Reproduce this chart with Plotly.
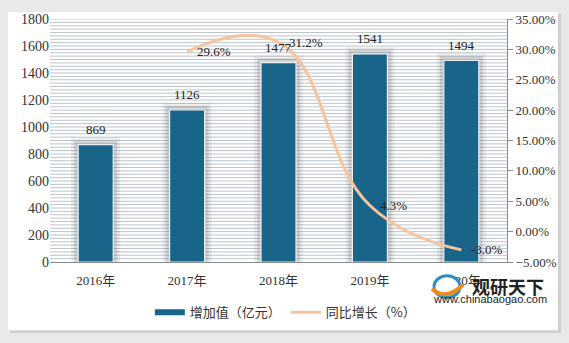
import plotly.graph_objects as go

years = ["2016年", "2017年", "2018年", "2019年", "2020年"]
value_added = [869, 1126, 1477, 1541, 1494]
growth_years = ["2017年", "2018年", "2019年", "2020年"]
growth_pct = [29.6, 31.2, 4.3, -3.0]
growth_labels = ["29.6%", "31.2%", "4.3%", "-3.0%"]

BAR = "#19658a"
LINE = "#f8c49c"
SERIF = "Liberation Serif, Noto Sans CJK SC, serif"
FONT_COL = "#333333"

# plot area in pixels: x 50..507, y 16..262
L, R, T, B = 50, 62, 16, 81
W, H = 569 - L - R, 343 - T - B
def px(x): return (x - L) / W
def py(y): return (343 - B - y) / H

fig = go.Figure()

# soft shadow around bars
for w, a in [(14, 0.10), (8, 0.18)]:
    fig.add_trace(go.Bar(x=years, y=value_added, width=0.383,
                         marker=dict(color=f"rgba(90,90,90,{a})",
                                     line=dict(color=f"rgba(90,90,90,{a})", width=w)),
                         showlegend=False, hoverinfo="skip"))

fig.add_trace(go.Bar(x=years, y=value_added, width=0.383, name="增加值（亿元）",
                     marker=dict(color=BAR, line=dict(color="#e8eef2", width=1.2)),
                     showlegend=False))

fig.add_trace(go.Scatter(x=growth_years, y=growth_pct, yaxis="y2", mode="lines",
                         line=dict(color=LINE, width=3, shape="spline", smoothing=1.25),
                         name="同比增长（%）", showlegend=False, cliponaxis=False))

# legend entries
fig.add_trace(go.Scatter(x=[None], y=[None], mode="lines", name="增加值（亿元）",
                         line=dict(color=BAR, width=6)))
fig.add_trace(go.Scatter(x=[None], y=[None], mode="lines", name="同比增长（%）",
                         line=dict(color=LINE, width=3)))

fig.update_layout(
    width=569, height=343,
    margin=dict(l=L, r=R, t=T, b=B),
    paper_bgcolor="#e9e9e9",
    plot_bgcolor="#e9f0f6",
    barmode="overlay",
    font=dict(family=SERIF, size=13, color=FONT_COL),
    xaxis=dict(type="category", categoryorder="array", categoryarray=years,
               showgrid=False, showline=True, linecolor="#8c8c8c", linewidth=1,
               ticks="", tickfont=dict(family=SERIF, size=13, color=FONT_COL),
               ticklabelstandoff=6),
    yaxis=dict(range=[0, 1800], tickvals=list(range(0, 1801, 200)),
               showgrid=False, zeroline=False, showline=False,
               tickfont=dict(family=SERIF, size=14, color=FONT_COL)),
    yaxis2=dict(range=[-5, 35], dtick=5, tickformat=".2f", ticksuffix="%",
                overlaying="y", side="right", showgrid=False, zeroline=False,
                showline=True, linecolor="#8c8c8c", linewidth=1,
                ticks="outside", ticklen=5, tickcolor="#8c8c8c",
                tickfont=dict(family=SERIF, size=13, color=FONT_COL)),
    legend=dict(orientation="h", x=0.515, xanchor="center", y=py(313), yanchor="middle",
                font=dict(family="Noto Sans CJK SC, sans-serif", size=13, color="#333"),
                bgcolor="rgba(0,0,0,0)", itemwidth=30, tracegroupgap=0),
    showlegend=True,
)

# bar value labels
for x, v in zip(years, value_added):
    fig.add_annotation(x=x, y=v, text=str(v), showarrow=False, yshift=15,
                       xanchor="center", yanchor="middle",
                       font=dict(family=SERIF, size=13, color="#222"))
# growth labels
for x, v, t in zip(growth_years, growth_pct, growth_labels):
    fig.add_annotation(x=x, y=v, yref="y2", text=t, showarrow=False, xshift=8,
                       xanchor="left", yanchor="middle",
                       font=dict(family=SERIF, size=13, color="#222"))

shapes = []
# white panel with shadow
shapes.append(dict(type="rect", xref="paper", yref="paper", layer="below",
                   x0=px(10), x1=px(561), y0=py(334), y1=py(11),
                   fillcolor="#cfcfcf", line=dict(width=0)))
shapes.append(dict(type="rect", xref="paper", yref="paper", layer="below",
                   x0=px(8), x1=px(558), y0=py(331), y1=py(9),
                   fillcolor="white", line=dict(width=0)))
# striped grid lines (every 25 units)
for v in range(25, 1801, 25):
    shapes.append(dict(type="line", xref="paper", yref="y", layer="below",
                       x0=0, x1=1, y0=v, y1=v, line=dict(color="#bcc4cd", width=1)))
# logo
shapes.append(dict(type="circle", xref="paper", yref="paper",
                   x0=px(434), x1=px(460), y0=py(298), y1=py(276),
                   fillcolor="white", line=dict(color="#2a8fc4", width=3)))
shapes.append(dict(type="path", xref="paper", yref="paper",
                   path=f"M {px(432)},{py(289)} Q {px(446)},{py(302)} {px(463)},{py(285)}",
                   line=dict(color="#f08a1d", width=4)))
fig.update_layout(shapes=shapes)

fig.add_annotation(xref="paper", yref="paper", x=px(508), y=py(286), text="<b>观研天下</b>",
                   showarrow=False, font=dict(family="Noto Sans CJK SC", size=18, color="#222"),
                   xanchor="center", yanchor="middle")
fig.add_annotation(xref="paper", yref="paper", x=px(490), y=py(299), text="www.chinabaogao.com",
                   showarrow=False, font=dict(family="Liberation Sans, Arial", size=11, color="#222"),
                   xanchor="center", yanchor="middle")

fig.write_html("out.html")
